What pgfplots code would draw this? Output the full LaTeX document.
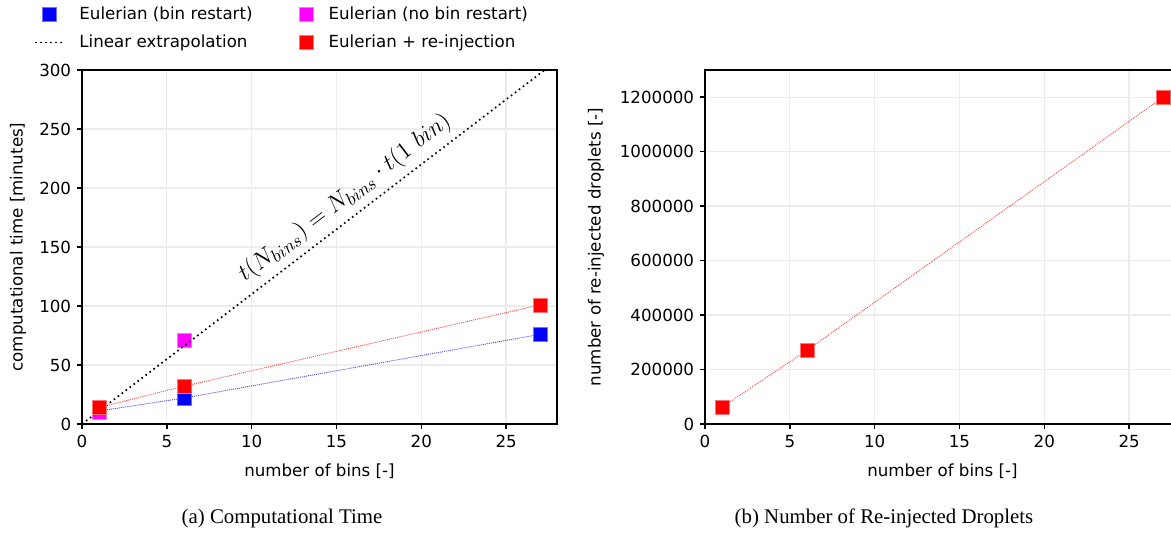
\documentclass[border=0pt]{standalone}
\usepackage[no-math]{fontspec}
\setmainfont{DejaVu Sans}
\newfontfamily\capfont{Liberation Serif}
\usepackage{pgfplots}
\pgfplotsset{compat=1.18}
\definecolor{mag}{RGB}{255,0,255}
\definecolor{pblue}{RGB}{0,0,255}
\definecolor{pred}{RGB}{255,0,0}
\pgfplotsset{
  myaxis/.style={
    scale only axis, width=285pt, height=212.4pt,
    xmin=0, xmax=28, ymin=0,
    axis line style={line width=0.9pt},
    every tick/.style={black, line width=0.9pt},
    major tick length=3pt,
    tick align=outside,
    tick pos=left,
    grid=major, major grid style={line width=0.8pt, color=gray!15},
    xtick={0,5,...,25},
    tick label style={font=\fontsize{10}{12}\selectfont},
    /pgf/number format/assume math mode=true,
    label style={font=\fontsize{10}{12}\selectfont},
    xlabel={number of bins [-]},
    xlabel style={at={(axis description cs:0.5,-0.1328)}, anchor=center},
    clip mode=individual,
  },
  sq/.style={only marks, mark=square*, mark size=4.2pt, mark options={fill=#1, draw=#1!55, line width=0.3pt}},
  conn/.style={#1, line width=0.55pt, dash pattern=on 0.6pt off 0.6pt, draw opacity=0.7, forget plot},
}
\begin{document}
\begin{tikzpicture}
\begin{axis}[myaxis, at={(0pt,0pt)}, anchor=south west,
  ymax=300, ytick={0,50,...,300},
  ylabel={computational time [minutes]},
  ylabel style={at={(axis description cs:-0.1347,0.5)}, anchor=center},
  legend style={at={(axis description cs:-0.1116,1.198)}, anchor=north west, draw=none, fill=none,
    font=\fontsize{10}{12}\selectfont, legend columns=2, legend cell align=left,
    /tikz/every odd column/.append style={column sep=7pt},
    /tikz/every even column/.append style={column sep=26.2pt}, row sep=3.8pt},
]
\addplot[conn=pblue] coordinates {(1,11) (6,22) (27,76)};
\addplot[conn=pred] coordinates {(1,14) (6,32) (27,101)};
\addplot[sq=pblue] coordinates {(1,11) (6,22) (27,76)};
\addlegendentry{Eulerian (bin restart)}
\addplot[sq=mag] coordinates {(1,10) (6,71)};
\addlegendentry{Eulerian (no bin restart)}
\addplot[black, line width=1pt, dash pattern=on 1pt off 2pt] coordinates {(0,0) (1,11) (28,308)};
\addlegendentry{Linear extrapolation}
\addplot[sq=pred] coordinates {(1,14) (6,32) (27,101)};
\addlegendentry{Eulerian + re-injection}
\node[rotate=37.4, font=\fontsize{15}{17}\selectfont] at (axis cs:15.5,191.5) {$t(N_{bins}) = N_{bins}\cdot t(1\ bin)$};
\end{axis}
\begin{axis}[myaxis, at={(373.8pt,0pt)}, anchor=south west,
  ymax=1300000, ytick={0,200000,...,1200000},
  scaled y ticks=false,
  yticklabel style={/pgf/number format/.cd, fixed, 1000 sep={}},
  ylabel={number of re-injected droplets [-]},
  ylabel style={at={(axis description cs:-0.2295,0.5)}, anchor=center},
]
\addplot[conn=pred] coordinates {(1,62000) (6,270000) (27,1200000)};
\addplot[sq=pred] coordinates {(1,62000) (6,270000) (27,1200000)};
\end{axis}
\node[font=\capfont\fontsize{12.5}{15}\selectfont] at (120pt,-56.4pt) {(a) Computational Time};
\node[font=\capfont\fontsize{12.5}{15}\selectfont] at (481.2pt,-56.4pt) {(b) Number of Re-injected Droplets};
\pgfresetboundingbox
\useasboundingbox (-49.2pt,-65.4pt) rectangle (653.4pt,254.4pt);
\end{tikzpicture}
\end{document}
